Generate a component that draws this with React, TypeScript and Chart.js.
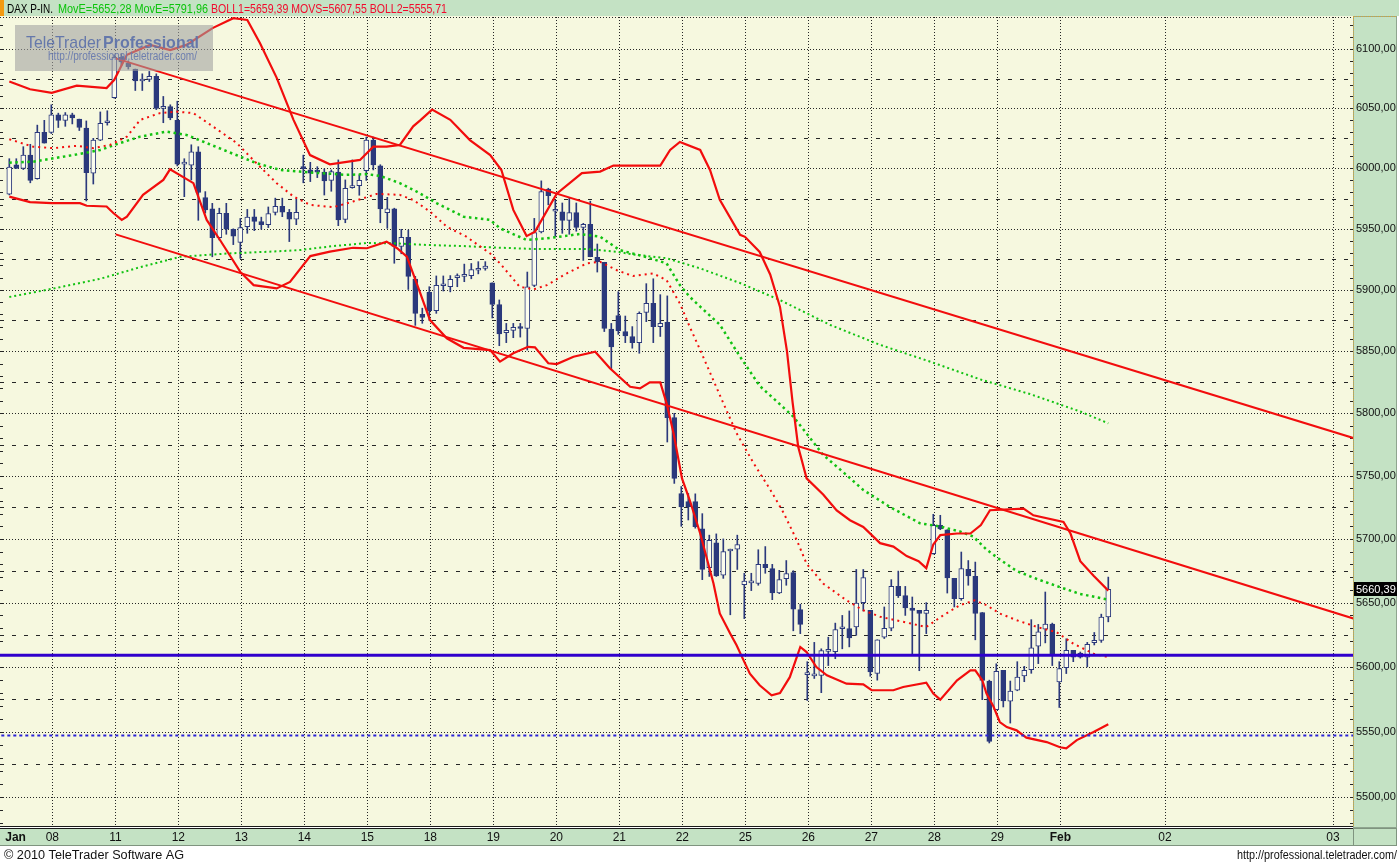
import React, { useEffect, useRef } from "react";
import { Chart, registerables } from "chart.js";

Chart.register(...registerables);

const W = 1399;
const H = 864;

// ---------- axis labels ----------
const dayLabels = ["Jan", "08", "11", "12", "13", "14", "15", "18", "19", "20", "21", "22", "25", "26", "27", "28", "29", "Feb", "02", "03"];
const dayTickIdx = [0.9, 6.15, 15.15, 24.15, 33.15, 42.15, 51.15, 60.15, 69.15, 78.15, 87.15, 96.15, 105.15, 114.15, 123.15, 132.15, 141.15, 150.15, 165.1, 189.1];
const priceTicks = [5500, 5550, 5600, 5650, 5700, 5750, 5800, 5850, 5900, 5950, 6000, 6050, 6100];

// ---------- hourly candles (index 0 = first bar of Jan 07) ----------
const candleOpen = [
  5978.5, 6003, 6000, 6011, 5991.5, 6030, 6030, 6044.5, 6040, 6044.5,
  6041, 6033.5, 5996, 6023.5, 6038, 6059, 6093, 6088, 6083, 6073,
  6074.4, 6077, 6050, 6051.5, 6040, 6003.5, 6002.6, 6013.7, 5975.7, 5966.4,
  5942.7, 5962.8, 5949.6, 5938.8, 5951.8, 5959.8, 5956, 5953.5, 5963.5, 5968.5,
  5963.5, 5958, 6000, 5998.7, 5997, 5996.8, 5990, 5996.8, 5957.8, 5984,
  5985.6, 5998, 6023.6, 6002, 5963.4, 5966.4, 5935.5, 5943, 5908.7, 5880,
  5898, 5883, 5903.3, 5902.5, 5910, 5911, 5911.6, 5916, 5917.5, 5905.7,
  5888, 5865, 5867, 5869.5, 5868.5, 5903.6, 5947.5, 5982.8, 5964.5, 5964,
  5957, 5963.3, 5951.2, 5953.7, 5926.6, 5922.5, 5868, 5879, 5866, 5862,
  5857, 5881.5, 5889, 5870, 5873.5, 5796.5, 5736, 5729.5, 5729.5, 5708,
  5677.3, 5697, 5671.5, 5690.5, 5692, 5664, 5665.5, 5665, 5680, 5676.7,
  5657.6, 5668.8, 5673.5, 5644.5, 5594, 5593, 5593.3, 5612, 5611.8, 5629.6,
  5629.8, 5631, 5650, 5644, 5595, 5623, 5630, 5662.7, 5655.5, 5645.8,
  5644, 5641.5, 5688.5, 5710.8, 5707.3, 5669, 5653, 5676, 5670.5, 5642.3,
  5589, 5567, 5597.3, 5573.5, 5582, 5593, 5597.8, 5616, 5629.3, 5633.2,
  5588.4, 5599.4, 5612.8, 5610.6, 5607.6, 5618.7, 5620.5, 5638.8,
];
const candleHigh = [
  6008, 6008, 6018, 6020, 6036, 6040, 6053, 6046, 6046.5, 6046,
  6041, 6039.5, 6025, 6047, 6048, 6095, 6096, 6090, 6083, 6079,
  6081, 6079, 6060, 6053, 6056, 6008, 6019.6, 6018, 5980.7, 5971,
  5967, 5971, 5950, 5958.5, 5966, 5966, 5959.6, 5968, 5975.3, 5975.3,
  5966, 5974.7, 6011, 6005, 6001.4, 5999.5, 5998.7, 6007, 5990.4, 6007,
  5994.7, 6026, 6026, 6003, 5976, 5967, 5949.6, 5949, 5911, 5885,
  5902.5, 5911.3, 5911.3, 5911.6, 5913, 5921, 5921.5, 5923, 5923, 5905.7,
  5891.7, 5872.6, 5872.6, 5872.6, 5914.5, 5958.6, 5989.6, 5983.5, 5973.7, 5971.3,
  5975.3, 5971.3, 5954.5, 5972.8, 5937.5, 5922.5, 5872.6, 5898.4, 5878.6, 5870,
  5882, 5905, 5909, 5896, 5895, 5800, 5741.5, 5736, 5735.7, 5720,
  5703, 5704, 5700, 5692, 5703, 5673, 5673, 5691.5, 5694, 5680,
  5675.3, 5683, 5675, 5648.7, 5604, 5619, 5614, 5623, 5634, 5640,
  5643.5, 5676, 5676, 5644, 5621, 5646.6, 5668, 5674.7, 5662.7, 5654.4,
  5644, 5650, 5719.5, 5718.7, 5707.3, 5669, 5689.7, 5683, 5681.8, 5642.3,
  5589.7, 5602.4, 5597.3, 5589, 5604, 5600.4, 5636.7, 5633, 5658.3, 5634,
  5604, 5621.8, 5612.8, 5611.5, 5619, 5626.7, 5641, 5670,
];
const candleLow = [
  5978, 6000, 5999, 5988, 5991, 6021, 6029, 6034, 6035, 6037,
  6031.5, 5973, 5987, 6023, 6036, 6058.5, 6086, 6083, 6065, 6065,
  6072.5, 6049, 6038, 6040.5, 6002, 5976.5, 5990.4, 5957, 5963, 5927,
  5940.8, 5945.5, 5937, 5925.7, 5946.3, 5948.5, 5949.6, 5951, 5961.4, 5960,
  5939.5, 5953.4, 5988, 5989, 5992.3, 5977.9, 5981, 5952.6, 5955, 5983.5,
  5977.7, 5990, 5998.7, 5955, 5950.4, 5921.7, 5929.5, 5900.3, 5871, 5872.7,
  5875, 5880.8, 5899, 5898.3, 5902.5, 5906.6, 5909, 5913, 5916, 5877,
  5854.5, 5857, 5861, 5861.5, 5851, 5902.5, 5946.6, 5969.8, 5943.8, 5946.3,
  5945.5, 5948, 5924, 5927, 5914.5, 5866, 5835.5, 5863.7, 5857, 5852.5,
  5848.4, 5874, 5857, 5862, 5777, 5744, 5710, 5715, 5708.5, 5668,
  5670.5, 5670.5, 5669, 5640.5, 5676, 5637.5, 5659.4, 5663.6, 5673, 5652.3,
  5657, 5663.6, 5628, 5625.8, 5574, 5591, 5580, 5601, 5606.3, 5614,
  5615.5, 5624.5, 5643.5, 5592.7, 5589.7, 5622, 5628, 5654, 5640, 5610,
  5597, 5625.8, 5688, 5707.3, 5657.5, 5646.6, 5651.8, 5663.6, 5621, 5574.6,
  5541.3, 5567, 5569, 5556.6, 5581.5, 5588.5, 5595, 5602.5, 5618.6, 5601,
  5568.6, 5594.8, 5604, 5606.8, 5600, 5617, 5619, 5635,
];
const candleClose = [
  6001, 6000, 6011, 5990, 6030, 6021, 6044.5, 6040, 6044.5, 6042,
  6034, 5996.5, 6023.5, 6037.5, 6038.5, 6093, 6089, 6085, 6073, 6074,
  6077, 6050, 6051, 6042, 6003.5, 6004, 6013.7, 5980, 5965.6, 5942.7,
  5962.8, 5949.6, 5944, 5951, 5959.6, 5956, 5953.5, 5962.5, 5968.5, 5963.7,
  5958, 5963.5, 5999.8, 5996, 5996.8, 5989.6, 5997.3, 5957.3, 5983.5, 5984.4,
  5990, 6023.6, 6002.8, 5966.4, 5966.4, 5935.5, 5943, 5911, 5880.7, 5877.4,
  5883, 5903.6, 5903.5, 5908.5, 5911.6, 5911.2, 5916.5, 5916.3, 5919.4, 5888,
  5864, 5867, 5869.5, 5868.5, 5902.5, 5946.8, 5980.7, 5977.4, 5964.6, 5957,
  5963.3, 5951.2, 5953.7, 5927, 5923, 5868.5, 5853.5, 5866.5, 5862.5, 5857,
  5880.8, 5889, 5870, 5872.7, 5796.5, 5748, 5725.4, 5725.5, 5709.7, 5676,
  5699, 5671, 5690, 5691, 5695.6, 5666.8, 5665.6, 5680, 5677.4, 5657.6,
  5668, 5672.7, 5644.8, 5633, 5594.5, 5593.5, 5612.6, 5612.6, 5629, 5630.7,
  5622.5, 5649.7, 5669.6, 5596, 5621, 5630, 5662.7, 5655.5, 5645.8, 5644,
  5641.5, 5644, 5710.8, 5708, 5669.4, 5653, 5676.6, 5671, 5641.5, 5589.5,
  5542.5, 5596.5, 5573.6, 5581.3, 5592, 5597.3, 5614.8, 5627.2, 5633.2, 5609,
  5598.6, 5612.8, 5607.6, 5607.6, 5617.5, 5620.5, 5638.8, 5660.39,
];

// ---------- indicators: [bar index, value] ----------
const bollUpper: [number, number][] = [
  [0, 6072.5], [2.96, 6066], [6.06, 6063], [9.63, 6069], [13.9, 6067], [15, 6074], [16.8, 6095], [20.1, 6103.4],
  [23, 6099], [25.3, 6103.4], [29.1, 6117.8], [32, 6126], [34, 6124.5], [35.8, 6105], [38.2, 6075.6], [40.6, 6040.4],
  [42.96, 6011], [45.8, 6003.4], [50.1, 6007], [52, 6018], [53.9, 6018], [55.8, 6019.5], [57.7, 6035], [58.7, 6040],
  [60.4, 6049], [63, 6040.4], [65.8, 6023.5], [68.7, 6011], [70.3, 5998.6], [72, 5965.6], [73.9, 5944], [75.1, 5947.7],
  [78.2, 5979], [81.8, 5996], [84.4, 5997.3], [86.3, 6002.3], [93, 6002.3], [94.4, 6015.3], [95.8, 6022], [98.7, 6015.3],
  [100.1, 5998.6], [101.5, 5974], [104.4, 5945], [105.1, 5943.4], [107.2, 5931], [108.7, 5912.5], [110.1, 5886], [111.1, 5850],
  [111.9, 5808.7], [112.7, 5773.2], [113.9, 5748], [116.3, 5735], [118.2, 5722.5], [120.1, 5714.8], [122, 5709.5], [124.4, 5696.7],
  [126.3, 5694], [128.2, 5686.5], [129.9, 5682.5], [131, 5677], [132, 5695.6], [133, 5703], [135.4, 5704.3], [137.3, 5704.3],
  [138.8, 5711], [140.1, 5722.7], [144.9, 5724], [146.3, 5718.7], [150.6, 5713.5], [151.6, 5704.3], [153, 5682.5], [154.9, 5671],
  [157, 5659.39],
];
const bollLower: [number, number][] = [
  [0, 5976.6], [2.96, 5972], [6.06, 5971.2], [10.1, 5971.2], [11.06, 5969], [13.9, 5968.4], [14.86, 5963], [16.06, 5957.3],
  [16.8, 5960], [19.1, 5978], [22, 5990.4], [22.96, 5999.2], [26.3, 5987.7], [28.2, 5957.3], [30.1, 5940.8], [33, 5914.6],
  [34.9, 5903.8], [38.2, 5901.1], [40.1, 5906.4], [43, 5927.6], [45.8, 5931.2], [49.1, 5934.4], [51.1, 5934], [53.9, 5939.4],
  [55.4, 5934], [56.8, 5927.2], [58.2, 5905.2], [60.1, 5875.3], [62.5, 5860.5], [64.9, 5852.8], [68.7, 5851], [70.1, 5841.6],
  [72, 5848.4], [74.1, 5853.6], [75.1, 5853.2], [77, 5840.3], [78.2, 5839.7], [80.6, 5845.6], [83.7, 5849.6], [85.8, 5836.3],
  [88.7, 5821.3], [90.1, 5820], [91.5, 5824.9], [93, 5824.9], [93.9, 5808], [94.9, 5783.8], [96.1, 5747.9], [97.2, 5730.8],
  [98.7, 5704.3], [100.6, 5664.9], [101.5, 5641.5], [103, 5625.8], [103.9, 5616.7], [104.9, 5605], [105.8, 5594.7], [107.2, 5585.7],
  [108.9, 5578], [110.1, 5579.8], [111.5, 5592], [112.5, 5607.6], [113, 5615.4], [113.9, 5611.5], [115.3, 5599.8], [116.8, 5593.4],
  [119.6, 5587], [122, 5586.5], [123.2, 5581.9], [126.3, 5581.9], [127.7, 5584.4], [131, 5587.8], [132, 5579.4], [133, 5574.6],
  [135.4, 5589.6], [137.3, 5597.3], [138, 5597.3], [139, 5589.6], [139.6, 5579.4], [140.6, 5569.3], [141.5, 5557.4], [142.5, 5553.5],
  [143.9, 5551], [145.3, 5545.4], [148.2, 5542], [150.1, 5538], [151, 5537.2], [152.5, 5543.5], [154.9, 5549.7], [157, 5555.71],
];
const bollMiddle: [number, number][] = [
  [0, 6024.2], [3.4, 6018], [6.3, 6016.8], [9.6, 6018.7], [12, 6016.8], [14.4, 6019.5], [16.8, 6026.4], [18.7, 6040.4],
  [21.5, 6046], [23.9, 6047.3], [26.3, 6046], [29.1, 6034.8], [32.5, 6021], [35.3, 6004.3], [38.2, 5987.7], [40.6, 5976.6],
  [43, 5969.7], [46.3, 5967.8], [49.1, 5972.5], [52.5, 5978.8], [55.8, 5978], [57.7, 5973.8], [60.1, 5964.2], [62.5, 5951.7],
  [65.3, 5943.5], [68.7, 5929.7], [70.1, 5921.6], [72.9, 5902.5], [74.9, 5900.3], [76.8, 5903.8], [79.6, 5913.3], [82.5, 5921.6],
  [84.4, 5922.9], [86.8, 5916], [89.1, 5911.2], [92, 5913.3], [93.9, 5907.8], [95.8, 5888.9], [97.2, 5869.9], [98.7, 5851],
  [101.8, 5810.8], [103.9, 5784.1], [106.3, 5760.3], [108.7, 5739.1], [110.6, 5720.8], [112.5, 5699], [113.9, 5680.5], [116.3, 5664.8],
  [119.6, 5651.8], [122, 5644], [124.4, 5639], [127.7, 5635], [131, 5631], [133.4, 5640], [135.8, 5648], [137.9, 5651.8],
  [139.6, 5648], [141.5, 5641.5], [143.9, 5636.3], [146.8, 5631], [149.6, 5627], [152, 5618], [154.9, 5610.2], [157, 5607.55],
];
const emaShort: [number, number][] = [
  [0, 6004.7], [3.4, 6005.5], [6.3, 6008.3], [10.1, 6012], [13, 6015.3], [15.8, 6021], [18.7, 6026.4], [22.5, 6030.6],
  [25.3, 6027.8], [28.2, 6021], [32, 6012], [35.3, 6004.3], [38.7, 5998.7], [41.5, 5997.3], [44.4, 5996], [48.2, 5994.6],
  [51.1, 5995.2], [53, 5993.7], [55.8, 5987.7], [58.2, 5980.7], [61.1, 5971], [64.9, 5960], [68.7, 5957.3], [70.1, 5950.4],
  [73.9, 5940.8], [76.8, 5942.2], [81.5, 5945.7], [84.4, 5943.5], [87.2, 5932.5], [91.1, 5926.6], [93.9, 5921.6], [95.8, 5903.8],
  [97.2, 5894.3], [98.7, 5886.2], [101.5, 5871.6], [104.4, 5845.6], [107.2, 5822], [109.4, 5810.8], [112, 5797.3], [113.9, 5783.8],
  [116.3, 5766.5], [119.1, 5753.1], [122, 5738.8], [125.8, 5725.3], [130.1, 5712.4], [133, 5709.8], [135.8, 5705.9], [137.7, 5701.9],
  [139.6, 5691.6], [141.5, 5683.9], [143.9, 5674.8], [146.8, 5668.5], [150.1, 5662.1], [152.9, 5656.9], [157, 5652.28],
];
const emaLong: [number, number][] = [
  [0, 5894.1], [6.3, 5901], [13, 5909], [18.7, 5918.5], [24.4, 5927], [31.1, 5929.7], [36.8, 5931.1], [41.5, 5932.5],
  [46.3, 5935.8], [51.1, 5938.3], [55.3, 5938], [60.1, 5936.6], [64.9, 5935.8], [68.7, 5934.8], [74.9, 5933.4], [82.5, 5933.4],
  [86.8, 5931.1], [89.1, 5929], [93.9, 5925.8], [98.7, 5917.5], [104.4, 5905.5], [110.1, 5891.6], [117.3, 5871.3], [124.4, 5855.2],
  [131.5, 5841.7], [138.7, 5827.3], [145.8, 5815.5], [153, 5801.4], [157, 5791.96],
];
const trendUpper: [number, number][] = [[15.2, 6092.0], [192, 5780.2]];
const trendLower: [number, number][] = [[15.2, 5945.4], [192, 5637.6]];
const supportLevel = 5609;
const lowLevel = 5547;

const headerName = "DAX P-IN.";
const headerMovE = "MovE=5652,28 MovE=5791,96";
const headerBoll = "BOLL1=5659,39 MOVS=5607,55 BOLL2=5555,71";

// ---------- styles ----------
const NAVY = "#2B397C";
const HOLLOW = "#FBFCEE";
const RED = "#F20D0D";
const GREEN = "#12C212";
const BLUE = "#3000CC";
const PANEL = "#C4E2C4";
const PLOT_BG = "#F6F8DF";
const FONT = "'Liberation Sans', Arial, sans-serif";

const fmt = (v: number) => v.toFixed(2).replace(".", ",");
const toXY = (pairs: [number, number][]) => pairs.map(([x, y]) => ({ x, y }));

function fitText(ctx: CanvasRenderingContext2D, text: string, x: number, y: number, width: number, font: string, color: string, alignRight = false) {
  ctx.save();
  ctx.font = font;
  ctx.fillStyle = color;
  ctx.textAlign = "left";
  ctx.textBaseline = "alphabetic";
  const w = ctx.measureText(text).width;
  const s = width / w;
  ctx.translate(alignRight ? x - width : x, y);
  ctx.scale(s, 1);
  ctx.fillText(text, 0, 0);
  ctx.restore();
}

const decor = {
  id: "decor",
  beforeDraw(chart: any) {
    const ctx: CanvasRenderingContext2D = chart.ctx;
    const a = chart.chartArea;
    ctx.save();
    ctx.fillStyle = "#ffffff";
    ctx.fillRect(0, 0, W, H);
    ctx.fillStyle = PLOT_BG;
    ctx.fillRect(a.left, 16, a.right - a.left, a.bottom - 16);
    // header
    ctx.fillStyle = PANEL;
    ctx.fillRect(0, 0, W, 16);
    ctx.fillStyle = "#F39A12";
    ctx.fillRect(0, 0, 4, 16);
    fitText(ctx, headerName, 7, 12.5, 46, `13px ${FONT}`, "#000");
    fitText(ctx, headerMovE, 58, 12.5, 150, `13px ${FONT}`, "#0CC40C");
    fitText(ctx, headerBoll, 211, 12.5, 236, `13px ${FONT}`, "#F20A2C");
    // right panel
    ctx.fillStyle = PANEL;
    ctx.fillRect(a.right, 16, 1397 - a.right, a.bottom + 2 - 16);
    ctx.strokeStyle = "#8FA58F";
    ctx.lineWidth = 1;
    ctx.strokeRect(a.right + 0.5, 16.5, 1397 - a.right - 1, a.bottom + 1 - 16);
    ctx.strokeStyle = "#D4AA3C";
    ctx.setLineDash([1, 1]);
    ctx.beginPath();
    ctx.moveTo(a.right + 0.5, 17);
    ctx.lineTo(a.right + 0.5, a.bottom + 1);
    ctx.moveTo(a.right, 16.5);
    ctx.lineTo(1397, 16.5);
    ctx.stroke();
    ctx.setLineDash([]);
    // bottom date band
    ctx.fillStyle = PANEL;
    ctx.fillRect(0, a.bottom + 2, 1397, 18);
    ctx.fillStyle = "#1a1a1a";
    ctx.fillRect(0, a.bottom, a.right, 1);
    ctx.fillRect(0, a.bottom + 2, a.right, 1);
    ctx.strokeStyle = "#7F947F";
    ctx.strokeRect(a.right + 0.5, a.bottom + 2.5, 1397 - a.right - 1, 17);
    ctx.fillStyle = "#7F947F";
    ctx.fillRect(0, a.bottom + 19, 1397, 1);
    // footer
    fitText(ctx, "\u00A9 2010 TeleTrader Software AG", 4, 859, 180, `12px ${FONT}`, "#111");
    fitText(ctx, "http://professional.teletrader.com/", 1397, 859, 160, `12px ${FONT}`, "#111", true);
    ctx.restore();
  },
  beforeDatasetsDraw(chart: any) {
    const ctx: CanvasRenderingContext2D = chart.ctx;
    const a = chart.chartArea;
    const ys = chart.scales.y;
    const xs = chart.scales.x;
    ctx.save();
    ctx.beginPath();
    ctx.rect(a.left, a.top - 1, a.right - a.left, a.bottom - a.top + 1);
    ctx.clip();
    ctx.strokeStyle = "#262626";
    ctx.lineWidth = 1;
    for (let v = 5500; v <= 6100; v += 25) {
      const py = Math.round(ys.getPixelForValue(v)) + 0.5;
      ctx.setLineDash(v % 50 === 0 ? [1, 2] : [4, 8]);
      ctx.beginPath();
      ctx.moveTo(a.left, py);
      ctx.lineTo(a.right, py);
      ctx.stroke();
    }
    ctx.setLineDash([1, 2]);
    dayTickIdx.forEach((v, i) => {
      if (i === 0) return;
      const px = Math.round(xs.getPixelForValue(v)) + 0.5;
      ctx.beginPath();
      ctx.moveTo(px, a.top);
      ctx.lineTo(px, a.bottom);
      ctx.stroke();
    });
    ctx.beginPath();
    ctx.moveTo(a.left, a.top + 0.5);
    ctx.lineTo(a.right, a.top + 0.5);
    ctx.stroke();
    ctx.setLineDash([]);
    ctx.restore();
    ctx.save();
    ctx.fillStyle = "#262626";
    for (let v = 5480; v <= 6120; v += 10) {
      const py = Math.round(ys.getPixelForValue(v));
      if (py < a.top || py > a.bottom) continue;
      ctx.fillRect(a.left, py, 3, 1);
      ctx.fillRect(a.right - 3, py, 3, 1);
    }
    ctx.restore();
  },
  afterDatasetsDraw(chart: any) {
    const ctx: CanvasRenderingContext2D = chart.ctx;
    const a = chart.chartArea;
    const ys = chart.scales.y;
    ctx.save();
    ctx.fillStyle = "rgba(160,160,158,0.58)";
    ctx.fillRect(15, 25, 198, 46);
    ctx.textBaseline = "alphabetic";
    ctx.fillStyle = "rgba(96,116,170,0.95)";
    fitText(ctx, "TeleTrader", 26, 48, 75, `17px ${FONT}`, "rgba(96,116,170,0.95)");
    fitText(ctx, "Professional", 103, 48, 96, `bold 17px ${FONT}`, "rgba(96,116,170,0.95)");
    fitText(ctx, "http://professional.teletrader.com/", 48, 60, 149, `12px ${FONT}`, "rgba(104,122,174,0.95)");
    const last = candleClose[candleClose.length - 1];
    const py = ys.getPixelForValue(last);
    ctx.fillStyle = "#000";
    ctx.fillRect(a.right + 1, Math.round(py) - 7, 43, 14);
    ctx.fillStyle = "#fff";
    ctx.font = `11px ${FONT}`;
    ctx.textBaseline = "middle";
    ctx.fillText(fmt(last), a.right + 3, Math.round(py) + 0.5);
    ctx.restore();
  },
};

export default function App() {
  const ref = useRef<HTMLCanvasElement>(null);
  useEffect(() => {
    const canvas = ref.current;
    if (!canvas) return;
    const idx = candleOpen.map((_, i) => i);
    const wickData = idx.map((i) => ({ x: i, y: [candleLow[i], candleHigh[i]] }));
    const bodyData = idx.map((i) => ({ x: i, y: [candleOpen[i], candleClose[i]] }));
    const bodyColors = idx.map((i) => (candleClose[i] >= candleOpen[i] ? HOLLOW : NAVY));
    const lineBase = { type: "line" as const, pointRadius: 0, pointHoverRadius: 0, fill: false, tension: 0 };

    const chart = new Chart(canvas, {
      type: "line",
      data: {
        datasets: [
          { ...lineBase, label: "Support", data: toXY([[-2, supportLevel], [193, supportLevel]]), borderColor: BLUE, borderWidth: 3, order: 0 },
          { ...lineBase, label: "Low", data: toXY([[-2, lowLevel], [193, lowLevel]]), borderColor: "#2A22D8", borderWidth: 2, borderDash: [3, 3], order: 1 },
          { ...lineBase, label: "Trend upper", data: toXY(trendUpper), borderColor: RED, borderWidth: 2, order: 2 },
          { ...lineBase, label: "Trend lower", data: toXY(trendLower), borderColor: RED, borderWidth: 2, order: 2 },
          { ...lineBase, label: "BOLL1", data: toXY(bollUpper), borderColor: RED, borderWidth: 2.2, order: 3 },
          { ...lineBase, label: "BOLL2", data: toXY(bollLower), borderColor: RED, borderWidth: 2.2, order: 3 },
          { ...lineBase, label: "MOVS", data: toXY(bollMiddle), borderColor: RED, borderWidth: 2, borderDash: [2, 4], order: 4 },
          { ...lineBase, label: "MovE short", data: toXY(emaShort), borderColor: GREEN, borderWidth: 2.5, borderDash: [2.5, 3.5], order: 5 },
          { ...lineBase, label: "MovE long", data: toXY(emaLong), borderColor: GREEN, borderWidth: 2, borderDash: [2, 3], order: 5 },
          {
            type: "bar", label: "Body", data: bodyData as any, backgroundColor: bodyColors, borderColor: NAVY,
            borderWidth: 1, borderSkipped: false, barThickness: 5, minBarLength: 2, grouped: false, order: 6,
          },
          {
            type: "bar", label: "Wick", data: wickData as any, backgroundColor: NAVY, borderWidth: 0,
            barThickness: 1, grouped: false, order: 7,
          },
        ] as any,
      },
      options: {
        responsive: false,
        animation: false,
        devicePixelRatio: 1,
        events: [],
        layout: { padding: { left: 0, right: 0, top: 17, bottom: 18 } },
        plugins: { legend: { display: false }, tooltip: { enabled: false }, title: { display: false } },
        scales: {
          x: {
            type: "linear",
            min: -1.33,
            max: 191.96,
            offset: false,
            bounds: "data",
            afterBuildTicks: (s: any) => {
              s.ticks = dayTickIdx.map((v) => ({ value: v }));
            },
            afterFit: (s: any) => {
              s.height = 20;
            },
            grid: { display: false, drawTicks: false },
            border: { display: false },
            ticks: {
              autoSkip: false,
              maxRotation: 0,
              minRotation: 0,
              padding: 4,
              color: "#111",
              font: (c: any) => ({
                family: FONT,
                size: 12,
                weight: dayLabels[c.index] === "Jan" || dayLabels[c.index] === "Feb" ? "bold" : "normal",
              }),
              callback: (_v: any, i: number) => dayLabels[i],
            },
          },
          y: {
            type: "logarithmic",
            position: "right",
            min: 5478,
            max: 6127,
            bounds: "data",
            afterBuildTicks: (s: any) => {
              s.ticks = priceTicks.map((v) => ({ value: v }));
            },
            afterFit: (s: any) => {
              s.width = 46;
            },
            grid: { display: false, drawTicks: false },
            border: { display: false },
            ticks: {
              autoSkip: false,
              padding: 3,
              color: "#111",
              font: { family: FONT, size: 11 },
              callback: (v: any) => fmt(Number(v)),
            },
          },
        },
      } as any,
      plugins: [decor],
    });
    return () => chart.destroy();
  }, []);

  return (
    <div style={{ position: "absolute", left: 0, top: 0, width: W, height: H, background: "#fff" }}>
      <canvas ref={ref} width={W} height={H} style={{ display: "block", width: W, height: H }} />
    </div>
  );
}
